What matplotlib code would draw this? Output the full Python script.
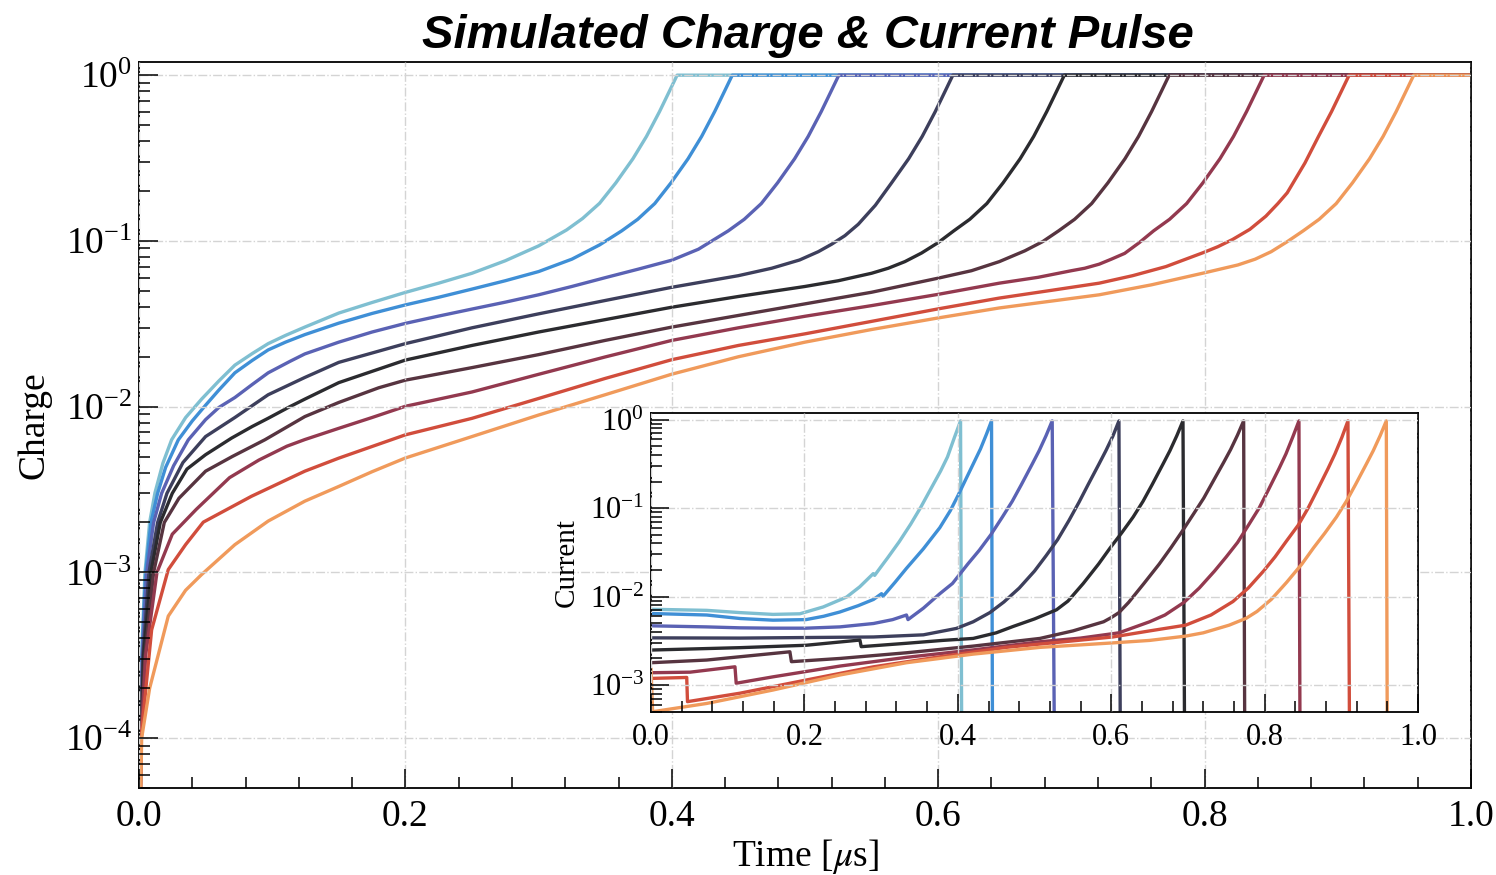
import matplotlib
matplotlib.use("Agg")
import matplotlib.pyplot as plt
from matplotlib.ticker import MultipleLocator, LogLocator, NullFormatter

# colours of the nine pulses, earliest to latest
pulse_colors = ["#7fbfd1", "#3f8fd6", "#5a62b4", "#3d3f5c", "#2b2b2f",
                "#573440", "#93394f", "#d14d3c", "#f09a5b"]

# charge curves (t in us, normalised charge)
charge_0 = [(0.0, 1e-5), (0.0008, 1e-4), (0.002, 3.16e-4), (0.0045, 1e-3), (0.008, 2.0e-3), (0.012, 3.02e-3),
            (0.018, 4.57e-3), (0.0245, 6.31e-3), (0.035, 8.59e-3), (0.047, 0.0111), (0.06, 0.0143),
            (0.072, 0.0178), (0.085, 0.0209), (0.097, 0.024), (0.11, 0.0269), (0.1245, 0.0302),
            (0.15, 0.0367), (0.175, 0.0425), (0.2, 0.0489), (0.225, 0.0556), (0.25, 0.0638),
            (0.275, 0.0759), (0.3, 0.0933), (0.321, 0.1164), (0.333, 0.1365), (0.3458, 0.1687),
            (0.358, 0.224), (0.3708, 0.313), (0.381, 0.427), (0.3908, 0.603), (0.398, 0.794),
            (0.404, 1.0), (1.0, 1.0)]
charge_1 = [(0.0, 1e-5), (0.0009, 1e-4), (0.0022, 3.16e-4), (0.005, 1e-3), (0.009, 2e-3), (0.014, 3e-3),
            (0.02, 4.3e-3), (0.0295, 6.3e-3), (0.04, 8.2e-3), (0.05, 0.0102), (0.06, 0.0126),
            (0.072, 0.016), (0.085, 0.019), (0.097, 0.022), (0.11, 0.0245), (0.1245, 0.0272),
            (0.15, 0.0319), (0.175, 0.0365), (0.2, 0.0411), (0.225, 0.0457), (0.25, 0.0512),
            (0.275, 0.0575), (0.3, 0.0653), (0.325, 0.0776), (0.3458, 0.0946), (0.3624, 0.115),
            (0.3744, 0.135), (0.3872, 0.168), (0.3994, 0.224), (0.4122, 0.313), (0.4224, 0.427),
            (0.4322, 0.603), (0.4394, 0.794), (0.4454, 1.0), (1.0, 1.0)]
charge_2 = [(0.0, 1e-5), (0.001, 1e-4), (0.0025, 3.16e-4), (0.0058, 1e-3), (0.011, 2e-3), (0.017, 3e-3),
            (0.026, 4.4e-3), (0.037, 6.3e-3), (0.05, 8.35e-3), (0.06, 0.00989), (0.072, 0.01135),
            (0.085, 0.0136), (0.097, 0.016), (0.1133, 0.01875), (0.1245, 0.0208), (0.15, 0.0245),
            (0.175, 0.0282), (0.2, 0.0318), (0.225, 0.0352), (0.25, 0.0388), (0.275, 0.0427),
            (0.3, 0.0473), (0.325, 0.0531), (0.35, 0.06), (0.375, 0.0676), (0.4, 0.0765),
            (0.42, 0.0891), (0.4424, 0.115), (0.4544, 0.135), (0.4672, 0.168), (0.4794, 0.224),
            (0.4922, 0.313), (0.5024, 0.427), (0.5122, 0.603), (0.5194, 0.794), (0.5254, 1.0),
            (1.0, 1.0)]
charge_3 = [(0.0, 1e-5), (0.0012, 1e-4), (0.003, 3.16e-4), (0.0075, 1e-3), (0.014, 2e-3), (0.021, 3e-3),
            (0.033, 4.6e-3), (0.05, 6.6e-3), (0.072, 8.6e-3), (0.097, 0.0118), (0.1245, 0.015),
            (0.15, 0.0185), (0.2, 0.024), (0.25, 0.0299), (0.3, 0.0363), (0.35, 0.0437),
            (0.4, 0.0525), (0.45, 0.0617), (0.475, 0.0684), (0.4959, 0.0767), (0.51, 0.0861),
            (0.52, 0.0955), (0.53, 0.1076), (0.54, 0.126), (0.5528, 0.164), (0.565, 0.224),
            (0.5778, 0.313), (0.588, 0.427), (0.5978, 0.603), (0.605, 0.794), (0.611, 1.0),
            (1.0, 1.0)]
charge_4 = [(0.0, 1e-5), (0.0014, 1e-4), (0.0035, 3.16e-4), (0.009, 1e-3), (0.016, 2e-3), (0.025, 3e-3),
            (0.036, 4.2e-3), (0.05, 5.13e-3), (0.0695, 6.46e-3), (0.085, 7.59e-3), (0.097, 8.51e-3),
            (0.1133, 0.01), (0.1245, 0.0111), (0.15, 0.01396), (0.2, 0.0191), (0.25, 0.0234),
            (0.3, 0.0282), (0.35, 0.0335), (0.4, 0.0398), (0.45, 0.0462), (0.5, 0.0531),
            (0.525, 0.0575), (0.55, 0.0638), (0.5625, 0.0684), (0.575, 0.075), (0.5875, 0.0845),
            (0.6, 0.0977), (0.6117, 0.115), (0.6237, 0.135), (0.6365, 0.168), (0.6487, 0.224),
            (0.6615, 0.313), (0.6717, 0.427), (0.6815, 0.603), (0.6887, 0.794), (0.6947, 1.0),
            (1.0, 1.0)]
charge_5 = [(0.0, 1e-5), (0.0016, 1e-4), (0.0045, 3.16e-4), (0.011, 1e-3), (0.019, 2e-3), (0.03, 2.8e-3),
            (0.05, 4.08e-3), (0.07, 5.0e-3), (0.0945, 6.31e-3), (0.1245, 8.71e-3), (0.15, 0.0106),
            (0.18, 0.013), (0.2, 0.01445), (0.25, 0.0172), (0.3, 0.0206), (0.35, 0.0251),
            (0.4, 0.0302), (0.45, 0.0355), (0.5, 0.0417), (0.55, 0.049), (0.6, 0.0596),
            (0.625, 0.0661), (0.6459, 0.075), (0.665, 0.0871), (0.6784, 0.099), (0.6904, 0.115),
            (0.7024, 0.135), (0.7152, 0.168), (0.7274, 0.224), (0.7402, 0.313), (0.7504, 0.427),
            (0.7602, 0.603), (0.7674, 0.794), (0.7734, 1.0), (1.0, 1.0)]
charge_6 = [(0.0, 1e-5), (0.0018, 1e-4), (0.005, 3.16e-4), (0.0135, 1e-3), (0.025, 1.7e-3), (0.043, 2.4e-3),
            (0.068, 3.73e-3), (0.09, 4.76e-3), (0.111, 5.77e-3), (0.1245, 6.33e-3), (0.15, 7.4e-3),
            (0.175, 8.6e-3), (0.2, 0.01005), (0.25, 0.01226), (0.3, 0.01567), (0.35, 0.01995),
            (0.4, 0.0251), (0.45, 0.0299), (0.5, 0.0351), (0.55, 0.0407), (0.6, 0.0476),
            (0.6459, 0.0556), (0.675, 0.0603), (0.7, 0.0661), (0.71, 0.0684), (0.7209, 0.0724),
            (0.73, 0.0776), (0.74, 0.0841), (0.751, 0.0977), (0.7617, 0.115), (0.7737, 0.135),
            (0.7865, 0.168), (0.7987, 0.224), (0.8115, 0.313), (0.8217, 0.427), (0.8315, 0.603),
            (0.8387, 0.794), (0.8447, 1.0), (1.0, 1.0)]
charge_7 = [(0.0, 1e-5), (0.0015, 1e-4), (0.0095, 4.5e-4), (0.022, 1.04e-3), (0.035, 1.47e-3),
            (0.0483, 2.01e-3), (0.0845, 2.88e-3), (0.1245, 4.08e-3), (0.15, 4.89e-3), (0.2, 6.76e-3),
            (0.25, 8.5e-3), (0.3, 0.0112), (0.35, 0.0148), (0.4, 0.0192), (0.45, 0.0234), (0.5, 0.0275),
            (0.55, 0.0327), (0.6, 0.0389), (0.6459, 0.0452), (0.6834, 0.0501), (0.7209, 0.0556),
            (0.746, 0.0617), (0.771, 0.07), (0.7992, 0.0851), (0.81, 0.0923), (0.821, 0.102),
            (0.834, 0.1175), (0.846, 0.141), (0.855, 0.168), (0.862, 0.195), (0.8753, 0.295),
            (0.8855, 0.427), (0.8953, 0.603), (0.9025, 0.794), (0.9085, 1.0), (1.0, 1.0)]
charge_8 = [(0.0, 1e-5), (0.002, 1e-4), (0.008, 2e-4), (0.022, 5.45e-4), (0.035, 7.8e-4), (0.047, 9.7e-4),
            (0.072, 1.47e-3), (0.097, 2.04e-3), (0.1245, 2.69e-3), (0.15, 3.3e-3), (0.175, 4.05e-3),
            (0.2, 4.9e-3), (0.25, 6.6e-3), (0.3, 8.9e-3), (0.35, 0.0118), (0.4, 0.0157),
            (0.45, 0.02), (0.5, 0.0245), (0.55, 0.0292), (0.6, 0.0343), (0.6459, 0.0394),
            (0.7209, 0.0473), (0.76, 0.0543), (0.7992, 0.064), (0.825, 0.0716), (0.838, 0.0776),
            (0.85, 0.0861), (0.862, 0.0989), (0.874, 0.115), (0.886, 0.135), (0.8988, 0.168),
            (0.911, 0.224), (0.9238, 0.313), (0.934, 0.427), (0.9438, 0.603), (0.951, 0.794),
            (0.957, 1.0), (1.0, 1.0)]

# current curves for the inset (normalised current)
current_0 = [(0.0, 0.0072), (0.0725, 0.007), (0.116, 0.0066), (0.159, 0.0063), (0.194, 0.0064),
             (0.2245, 0.00765), (0.255, 0.0099), (0.272, 0.0129), (0.2897, 0.0182), (0.2915, 0.0174),
             (0.3, 0.0219), (0.3085, 0.0275), (0.3235, 0.0417), (0.3385, 0.066), (0.3515, 0.102),
             (0.3635, 0.158), (0.3775, 0.263), (0.3865, 0.38), (0.3955, 0.63), (0.4035, 0.97),
             (0.406, 1e-6)]
current_1 = [(0.0, 0.00645), (0.0725, 0.0062), (0.116, 0.00566), (0.159, 0.00542), (0.202, 0.0055),
             (0.225, 0.006), (0.246, 0.0067), (0.27, 0.0079), (0.29, 0.0093), (0.3005, 0.0108),
             (0.3025, 0.0101), (0.318, 0.0145), (0.333, 0.0209), (0.355, 0.0347), (0.3765, 0.0603),
             (0.39, 0.0933), (0.4, 0.138), (0.41, 0.209), (0.42, 0.316), (0.4295, 0.468),
             (0.4374, 0.69), (0.4439, 0.97), (0.446, 1e-6)]
current_2 = [(0.0, 0.00468), (0.0725, 0.00455), (0.116, 0.00444), (0.159, 0.0044), (0.202, 0.0044),
             (0.246, 0.00455), (0.29, 0.00497), (0.315, 0.0055), (0.333, 0.0062), (0.335, 0.0055),
             (0.355, 0.0074), (0.3765, 0.0108), (0.393, 0.0141), (0.413, 0.0234), (0.428, 0.0335),
             (0.443, 0.0501), (0.458, 0.0794), (0.471, 0.12), (0.483, 0.186), (0.497, 0.316),
             (0.506, 0.447), (0.515, 0.661), (0.523, 0.97), (0.5277, 1e-6)]
current_3 = [(0.0, 0.00342), (0.116, 0.0034), (0.202, 0.00345), (0.29, 0.0035), (0.355, 0.0037),
             (0.398, 0.00437), (0.42, 0.0052), (0.4417, 0.0066), (0.46, 0.0087), (0.48, 0.0125),
             (0.5, 0.0195), (0.515, 0.029), (0.53, 0.044), (0.545, 0.073), (0.558, 0.117),
             (0.57, 0.186), (0.584, 0.316), (0.593, 0.447), (0.602, 0.65), (0.61, 0.97), (0.613, 1e-6)]
current_4 = [(0.0, 0.00249), (0.116, 0.00265), (0.202, 0.00282), (0.2723, 0.00323), (0.274, 0.00272),
             (0.333, 0.00297), (0.38, 0.0032), (0.42, 0.00337), (0.45, 0.0039), (0.472, 0.0046),
             (0.5, 0.0056), (0.5286, 0.0071), (0.5435, 0.0089), (0.5635, 0.0141), (0.5835, 0.0234),
             (0.5985, 0.0355), (0.6135, 0.0525), (0.6285, 0.0794), (0.6415, 0.12), (0.6535, 0.186),
             (0.6675, 0.316), (0.6765, 0.447), (0.6855, 0.661), (0.6935, 0.97), (0.697, 1e-6)]
current_5 = [(0.0, 0.00179), (0.0725, 0.00192), (0.181, 0.00238), (0.183, 0.00184), (0.246, 0.002),
             (0.333, 0.00232), (0.42, 0.00276), (0.507, 0.00337), (0.55, 0.0041), (0.58, 0.0049),
             (0.59, 0.0052), (0.6, 0.0058), (0.61, 0.0066), (0.6226, 0.0086), (0.6426, 0.0141),
             (0.6626, 0.0234), (0.6776, 0.0355), (0.6926, 0.055), (0.7076, 0.087), (0.7206, 0.13),
             (0.7326, 0.2), (0.7466, 0.33), (0.7556, 0.46), (0.7646, 0.67), (0.7726, 0.97),
             (0.775, 1e-6)]
current_6 = [(0.0, 0.00138), (0.0508, 0.0014), (0.1094, 0.00161), (0.111, 0.00105), (0.159, 0.00124),
             (0.246, 0.00164), (0.333, 0.00206), (0.42, 0.0025), (0.507, 0.00309), (0.56, 0.0034),
             (0.61, 0.0039), (0.65, 0.0052), (0.67, 0.0062), (0.6947, 0.0086), (0.7147, 0.0125),
             (0.7347, 0.0195), (0.7497, 0.028), (0.7647, 0.041), (0.7797, 0.066), (0.7927, 0.1),
             (0.8047, 0.16), (0.8187, 0.28), (0.8277, 0.41), (0.8367, 0.64), (0.8447, 0.97),
             (0.847, 1e-6)]
current_7 = [(0.0, 0.00119), (0.0465, 0.00122), (0.0475, 0.00065), (0.116, 0.00081), (0.202, 0.00114),
             (0.29, 0.00161), (0.3765, 0.00209), (0.463, 0.00267), (0.602, 0.0035), (0.65, 0.0041),
             (0.697, 0.00476), (0.73, 0.0062), (0.7586, 0.0088), (0.7786, 0.0125), (0.7986, 0.0195),
             (0.8136, 0.0282), (0.8286, 0.0427), (0.8436, 0.064), (0.8566, 0.1), (0.8686, 0.16),
             (0.8826, 0.28), (0.8916, 0.41), (0.9006, 0.63), (0.9086, 0.97), (0.912, 1e-6)]
current_8 = [(0.0, 0.0015), (0.002, 0.0005), (0.0725, 0.00062), (0.159, 0.00088), (0.246, 0.0013),
             (0.333, 0.00179), (0.42, 0.00224), (0.507, 0.00267), (0.602, 0.003), (0.65, 0.0032),
             (0.697, 0.00358), (0.72, 0.0039), (0.7537, 0.00476), (0.776, 0.0057), (0.79, 0.0068),
             (0.8086, 0.0093), (0.8286, 0.0145), (0.8486, 0.0234), (0.8636, 0.0355), (0.8786, 0.0525),
             (0.8936, 0.0794), (0.9066, 0.12), (0.9186, 0.186), (0.9326, 0.316), (0.9416, 0.447),
             (0.9506, 0.661), (0.9586, 0.97), (0.9607, 1e-6)]

charges = [charge_0, charge_1, charge_2, charge_3, charge_4, charge_5, charge_6, charge_7, charge_8]
currents = [current_0, current_1, current_2, current_3, current_4, current_5, current_6, current_7, current_8]

plt.rcParams["font.family"] = "serif"
plt.rcParams["font.serif"] = ["Liberation Serif", "DejaVu Serif"]
plt.rcParams["mathtext.fontset"] = "stix"

fig = plt.figure(figsize=(14.96, 8.75), dpi=100)
ax = fig.add_axes([0.0929, 0.0994, 0.8904, 0.8297])
ins = fig.add_axes([0.4352, 0.1866, 0.5127, 0.3417])


def style_axes(a, size, major_len, minor_len):
    a.set_yscale("log")
    a.set_xlim(0, 1)
    a.xaxis.set_major_locator(MultipleLocator(0.2))
    a.xaxis.set_minor_locator(MultipleLocator(0.04))
    a.yaxis.set_major_locator(LogLocator(base=10, numticks=12))
    a.yaxis.set_minor_locator(LogLocator(base=10, subs=range(2, 10), numticks=12))
    a.yaxis.set_minor_formatter(NullFormatter())
    a.tick_params(which="both", direction="in", top=False, right=False, width=1.1,
                  labelsize=size)
    a.tick_params(axis="x", pad=8)
    a.tick_params(axis="y", pad=5)
    a.tick_params(which="major", length=major_len)
    a.tick_params(which="minor", length=minor_len)
    for s in a.spines.values():
        s.set_linewidth(1.3)
    a.grid(True, which="major", ls="-.", color="#d4d4d4", lw=1.0)
    a.set_axisbelow(False)


for c, pts in zip(pulse_colors, charges):
    t = [p[0] for p in pts]
    q = [p[1] for p in pts]
    ax.plot(t, q, color=c, lw=2.4)
style_axes(ax, 27, 14, 8)
ax.set_ylim(5e-5, 1.2)
ax.set_xlabel(r"Time [$\mu$s]", fontsize=27)
ax.xaxis.set_label_coords(0.5, -0.068)
ax.set_ylabel("Charge", fontsize=27)
ax.yaxis.set_label_coords(-0.066, 0.5)

for c, pts in zip(pulse_colors, currents):
    t = [p[0] for p in pts]
    i = [p[1] for p in pts]
    ins.plot(t, i, color=c, lw=2.4)
style_axes(ins, 22, 13, 8)
ins.set_ylim(5e-4, 1.2)
ins.set_ylabel("Current", fontsize=21)
ins.yaxis.set_label_coords(-0.093, 0.5)

fig.text(0.54, 0.959, "Simulated Charge & Current Pulse", ha="center", va="center",
         fontsize=34, fontweight="bold", fontstyle="italic", family="Liberation Sans")

fig.savefig("out.png", dpi=100)
